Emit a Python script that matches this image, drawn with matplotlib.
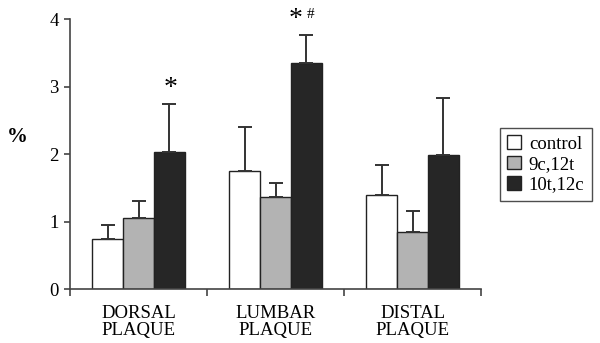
import numpy as np
import matplotlib.pyplot as plt

plt.rcParams['font.family'] = ['Liberation Serif', 'DejaVu Serif']

categories = ["DORSAL\nPLAQUE", "LUMBAR\nPLAQUE", "DISTAL\nPLAQUE"]
series = ["control", "9c,12t", "10t,12c"]
means = {
    "control": [0.74, 1.75, 1.40],
    "9c,12t": [1.06, 1.37, 0.85],
    "10t,12c": [2.03, 3.35, 1.99],
}
err_top = {
    "control": [0.95, 2.40, 1.84],
    "9c,12t": [1.30, 1.58, 1.16],
    "10t,12c": [2.74, 3.77, 2.83],
}
colors = ["white", "#b3b3b3", "#262626"]

fig = plt.figure(figsize=(6, 3.43), dpi=100)
ax = fig.add_axes([0.1167, 0.1566, 0.685, 0.788])

x = np.arange(len(categories))
w = 0.225
for i, s in enumerate(series):
    vals = np.array(means[s])
    up = np.array(err_top[s]) - vals
    ax.bar(x + (i - 1) * w, vals, w, color=colors[i], edgecolor="#222222",
           linewidth=1.0, label=s,
           yerr=[np.zeros_like(up), up], capsize=4.7,
           error_kw=dict(ecolor="#333333", elinewidth=1.4, capthick=1.4))

# significance marks
bx = x + w
ax.annotate("*", (bx[0], err_top["10t,12c"][0]), xytext=(1, 2),
            textcoords="offset points", ha="center", va="bottom", fontsize=20)
ax.annotate("*", (bx[1], err_top["10t,12c"][1]), xytext=(-3, 2),
            textcoords="offset points", ha="right", va="bottom", fontsize=20)
ax.annotate("#", (bx[1], err_top["10t,12c"][1]), xytext=(0, 10),
            textcoords="offset points", ha="left", va="bottom", fontsize=11)

ax.set_xlim(-0.5, 2.5)
ax.set_ylim(0, 4)
ax.set_yticks([0, 1, 2, 3, 4])
ax.set_xticks(x)
ax.set_xticklabels(categories, fontsize=13.5, linespacing=1.0)
ax.set_xticks([-0.5, 0.5, 1.5, 2.5], minor=True)
ax.tick_params(axis="x", which="major", length=0, pad=11)
ax.tick_params(axis="x", which="minor", length=5, width=1.2, color="#444444")
ax.tick_params(axis="y", length=4, width=1.2, color="#444444", labelsize=13.5, pad=4)
for sp in ["top", "right"]:
    ax.spines[sp].set_visible(False)
for sp in ["left", "bottom"]:
    ax.spines[sp].set_color("#444444")
    ax.spines[sp].set_linewidth(1.2)

fig.text(0.029, 0.60, "%", fontsize=15, ha="center", va="center", fontweight="bold")

leg = ax.legend(loc="upper left", bbox_to_anchor=(0.833, 0.627),
                bbox_transform=fig.transFigure, fontsize=13.5, frameon=True,
                fancybox=False, handlelength=0.75, handleheight=0.75,
                handletextpad=0.4, borderpad=0.4, labelspacing=0.15,
                borderaxespad=0)
leg.get_frame().set_edgecolor("#222222")
leg.get_frame().set_linewidth(1.0)

fig.savefig("out.png", dpi=100)
